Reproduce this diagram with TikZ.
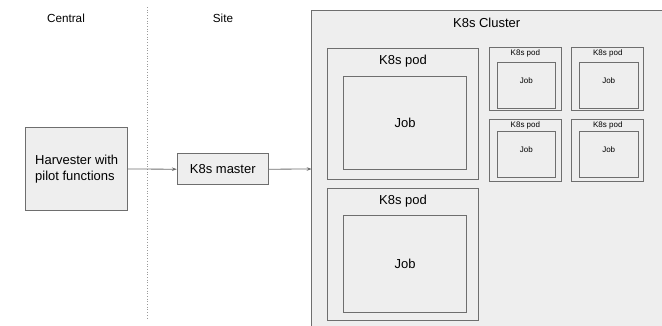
\documentclass[tikz,border=0pt]{standalone}
\usepackage{fontspec}
\setmainfont{Liberation Sans}
\usetikzlibrary{arrows.meta}
\definecolor{boxfill}{HTML}{EEEEEE}
\definecolor{boxline}{HTML}{6E6E6E}
\definecolor{dotline}{HTML}{9A9A9A}
\tikzset{
  box/.style={draw=boxline, fill=boxfill, line width=0.9pt},
  lbl/.style={inner sep=0pt, anchor=center},
  big/.style={font=\fontsize{13}{15.5}\selectfont},
  small/.style={font=\fontsize{8}{9.5}\selectfont},
  conn/.style={draw=boxline, line width=0.8pt, -{Stealth[length=5pt,width=3.5pt]}},
}
\begin{document}
\begin{tikzpicture}[x=1pt,y=-1pt]
\useasboundingbox (0,0) rectangle (662,325);
\clip (0,0) rectangle (662,325);
% section labels and separator
\node[lbl, font=\fontsize{11.7}{14}\selectfont] (central) at (66,18) {Central};
\node[lbl, font=\fontsize{11.7}{14}\selectfont] (site) at (223,18) {Site};
\draw[dotline, line width=0.7pt, dotted] (147,7) -- (147,318);
% harvester and master
\node[box, big, minimum width=102pt, minimum height=83.4pt, align=left, inner sep=0pt] (harv) at (76.7,169) {Harvester with\\pilot functions};
\node[box, big, minimum width=91pt, minimum height=31pt, inner sep=0pt] (master) at (222.8,169.2) {K8s master};
% cluster
\draw[box] (311.7,10.3) rectangle (680,340);
\coordinate (clin) at (311.7,169);
\node[lbl, big] (cltitle) at (486.7,23.3) {K8s Cluster};
% big pods
\draw[box] (327.3,48.3) rectangle (478.7,179.3);
\node[lbl, big] (p1) at (403,61) {K8s pod};
\draw[box] (343.7,76) rectangle (466.7,169.3);
\node[lbl, big] (j1) at (405.2,123.3) {Job};
\draw[box] (327.3,188.7) rectangle (478.7,320);
\node[lbl, big] (p2) at (403,201) {K8s pod};
\draw[box] (343.7,215.3) rectangle (466.7,312);
\node[lbl, big] (j2) at (405.2,264.3) {Job};
% small pods
\foreach \x/\ix/\nm in {489.3/497/a,571.7/579.3/b}{
  \foreach \y/\iy/\r in {47.7/62/1,119.3/131.3/2}{
    \draw[box] (\x,\y) rectangle ++(72.2,62.6);
    \node[lbl, small] (sp\nm\r) at (\x+36.1,\y+5.8) {K8s pod};
    \draw[box] (\ix,\iy) rectangle ++(58.8,46.6);
    \node[lbl, small] (sj\nm\r) at (\ix+29.4,\iy+18.4) {Job};
  }
}
% connectors
\draw[conn] (harv.east) -- (master.west);
\draw[conn] (master.east) -- (clin);
\end{tikzpicture}
\end{document}
